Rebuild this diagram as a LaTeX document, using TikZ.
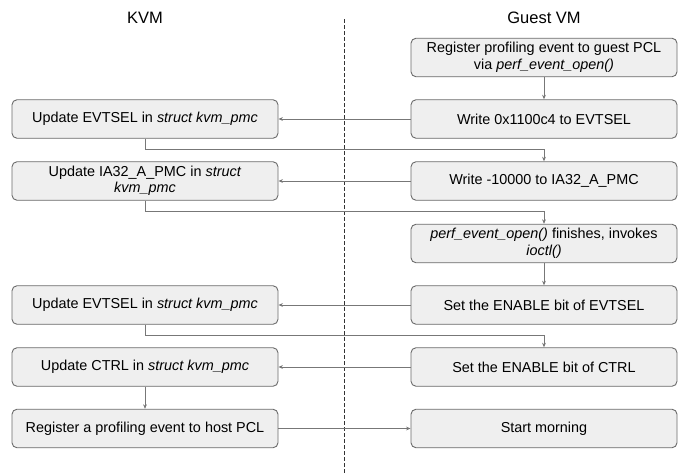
\documentclass[tikz,border=0pt]{standalone}
\usepackage{fontspec}
\setmainfont{Liberation Sans}
\usetikzlibrary{arrows.meta}
\definecolor{boxfill}{HTML}{EFEFEF}
\definecolor{boxline}{HTML}{6A6A6A}
\definecolor{wire}{HTML}{777777}
\tikzset{
  stepbox/.style={draw=boxline, fill=boxfill, rounded corners=5pt, line width=0.9pt,
    minimum width=266pt, minimum height=38.5pt, align=center, inner sep=2pt,
    font=\fontsize{14.4}{16.5}\selectfont},
  title/.style={font=\fontsize{16.5}{19}\selectfont},
  flow/.style={draw=wire, line width=0.9pt, -{Stealth[length=4.5pt,width=3.8pt]}},
}
\begin{document}
\begin{tikzpicture}[x=1pt, y=-1pt]
\useasboundingbox (0,0) rectangle (680,474);

% column headings and the separator between host and guest
\node[title] (kvm) at (145,18) {KVM};
\node[title] (guest) at (544,18) {Guest VM};
\coordinate (septop) at (344,19);
\coordinate (sepbot) at (344,474);
\draw[black!80, line width=0.8pt, dash pattern=on 3.5pt off 2.5pt] (septop) -- (sepbot);

% guest side
\node[stepbox] (r1) at (544,57.5) {Register profiling event to guest PCL\\via \textit{perf\_event\_open()}};
\node[stepbox] (r2) at (544,119) {Write 0x1100c4 to EVTSEL};
\node[stepbox] (r3) at (544,181) {Write -10000 to IA32\_A\_PMC};
\node[stepbox] (r4) at (544,243.5) {\textit{perf\_event\_open()} finishes, invokes\\\textit{ioctl()}};
\node[stepbox] (r5) at (544,305) {Set the ENABLE bit of EVTSEL};
\node[stepbox] (r6) at (544,367) {Set the ENABLE bit of CTRL};
\node[stepbox] (r7) at (544,428.5) {Start morning};

% host side
\node[stepbox] (l1) at (145,119) {Update EVTSEL in \textit{struct kvm\_pmc}};
\node[stepbox] (l2) at (145,181) {Update IA32\_A\_PMC in \textit{struct}\\\textit{kvm\_pmc}};
\node[stepbox] (l3) at (145,305) {Update EVTSEL in \textit{struct kvm\_pmc}};
\node[stepbox] (l4) at (145,367) {Update CTRL in \textit{struct kvm\_pmc}};
\node[stepbox] (l5) at (145,428.5) {Register a profiling event to host PCL};

% control flow
\draw[flow] (r1) -- (r2);
\draw[flow] (r2) -- (l1);
\draw[flow] (l1.south) -- ++(0,11) -| (r3.north);
\draw[flow] (r3) -- (l2);
\draw[flow] (l2.south) -- ++(0,11) -| (r4.north);
\draw[flow] (r4) -- (r5);
\draw[flow] (r5) -- (l3);
\draw[flow] (l3.south) -- ++(0,11) -| (r6.north);
\draw[flow] (r6) -- (l4);
\draw[flow] (l4) -- (l5);
\draw[flow] (l5) -- (r7);
\end{tikzpicture}
\end{document}
